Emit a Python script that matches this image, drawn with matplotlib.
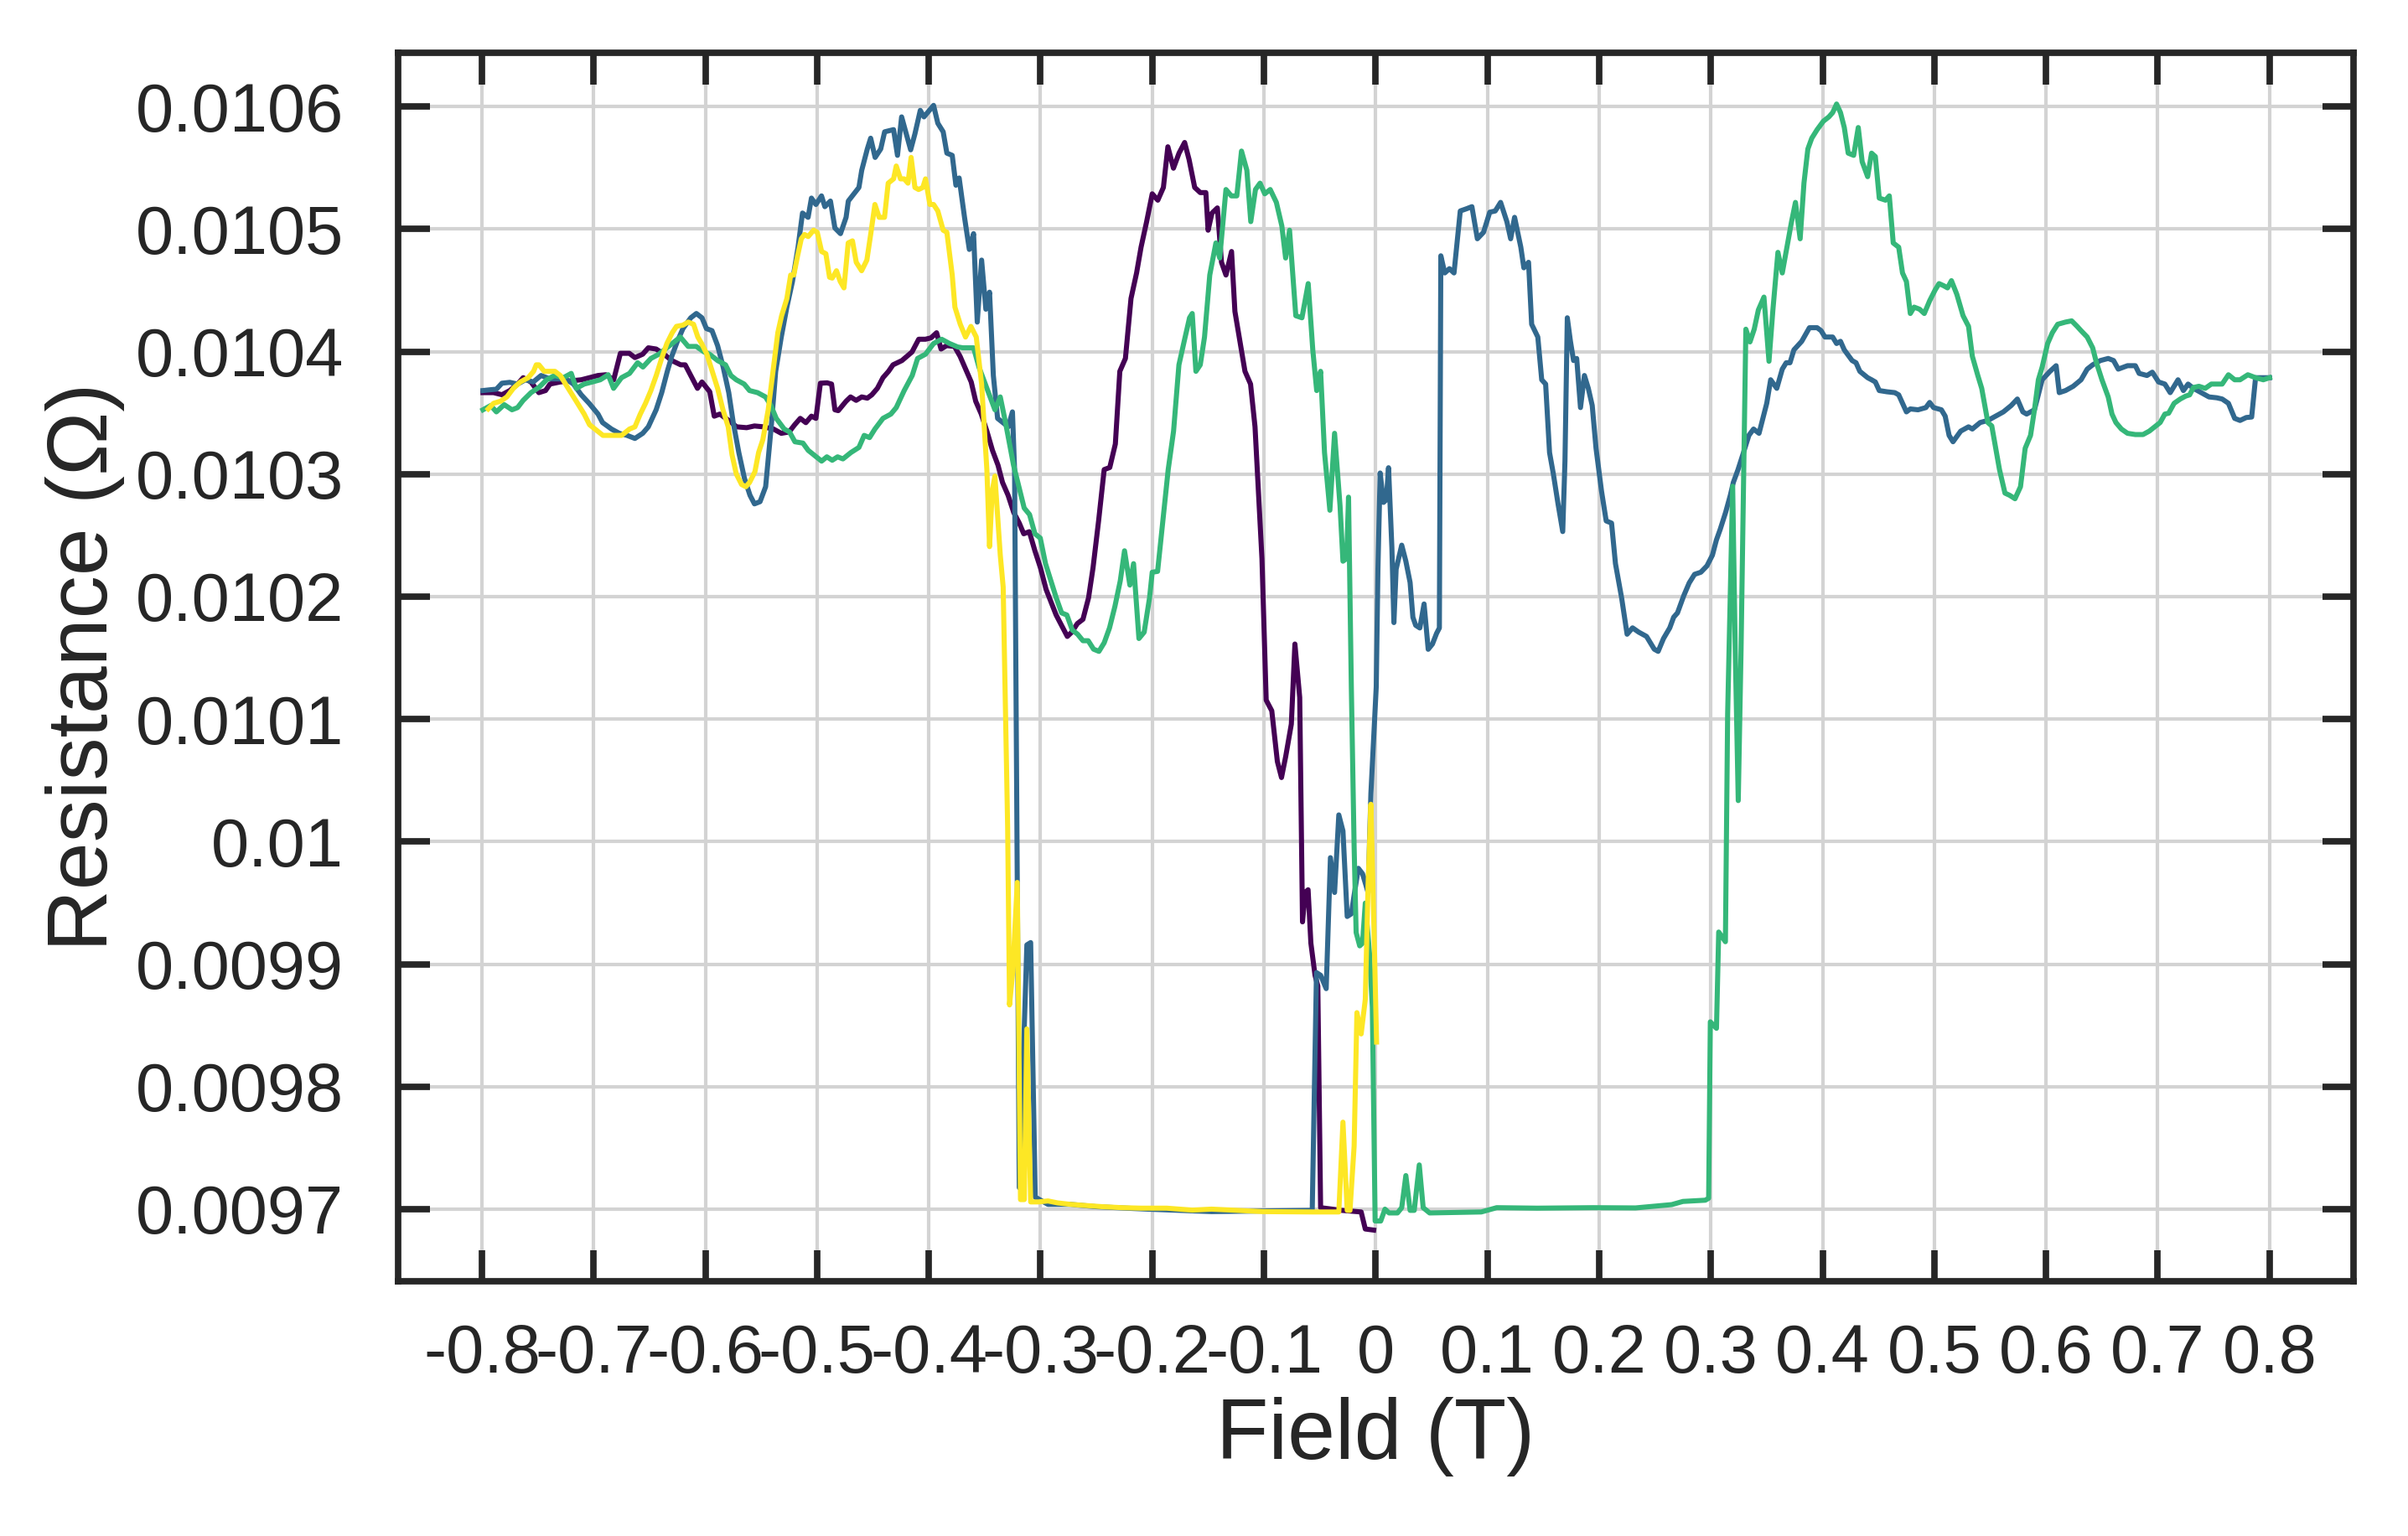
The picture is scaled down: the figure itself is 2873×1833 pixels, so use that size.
import matplotlib
matplotlib.use("Agg")
import matplotlib.pyplot as plt

purple_field = [-0.799, -0.7895, -0.782, -0.775, -0.768, -0.763, -0.756, -0.749, -0.743, -0.739,
                -0.730, -0.711, -0.696, -0.689, -0.682, -0.676, -0.668, -0.663, -0.656, -0.651,
                -0.644, -0.637, -0.630, -0.622, -0.618, -0.613, -0.607, -0.603, -0.596, -0.592,
                -0.587, -0.579, -0.572, -0.563, -0.556, -0.548, -0.539, -0.532, -0.525, -0.520,
                -0.515, -0.510, -0.505, -0.501, -0.497, -0.491, -0.487, -0.484, -0.481, -0.474,
                -0.470, -0.465, -0.460, -0.455, -0.451, -0.446, -0.441, -0.436, -0.432, -0.424,
                -0.415, -0.409, -0.403, -0.398, -0.393, -0.389, -0.384, -0.377, -0.372, -0.367,
                -0.362, -0.358, -0.353, -0.348, -0.343, -0.338, -0.334, -0.329, -0.324, -0.319,
                -0.315, -0.310, -0.305, -0.300, -0.295, -0.286, -0.276, -0.272, -0.267, -0.262,
                -0.257, -0.253, -0.248, -0.243, -0.238, -0.233, -0.229, -0.224, -0.219, -0.214,
                -0.210, -0.205, -0.200, -0.195, -0.190, -0.186, -0.181, -0.176, -0.171, -0.167,
                -0.162, -0.157, -0.152, -0.150, -0.1465, -0.1417, -0.138, -0.134, -0.129, -0.126,
                -0.117, -0.112, -0.108, -0.1018, -0.098, -0.093, -0.088, -0.0843, -0.0805, -0.0755,
                -0.0723, -0.068, -0.0655, -0.063, -0.0605, -0.058, -0.0543, -0.0518, -0.0493, -0.0305,
                -0.013, -0.0093, -0.0018]
purple_res = [0.0103665, 0.0103665, 0.0103648, 0.0103682, 0.0103735, 0.0103787, 0.0103752, 0.0103665, 0.0103682, 0.0103735,
              0.0103752, 0.0103770, 0.0103805, 0.0103811, 0.0103770, 0.0103986, 0.0103986, 0.0103951, 0.0103979, 0.0104031,
              0.0104021, 0.0103979, 0.0103927, 0.0103892, 0.0103892, 0.0103805, 0.0103700, 0.0103752, 0.0103672, 0.0103473,
              0.0103490, 0.0103438, 0.0103386, 0.0103379, 0.0103393, 0.0103386, 0.0103368, 0.0103333, 0.0103344, 0.0103403,
              0.0103455, 0.0103420, 0.0103473, 0.0103455, 0.0103742, 0.0103745, 0.0103735, 0.0103525, 0.0103518, 0.0103595,
              0.0103630, 0.0103602, 0.0103630, 0.0103620, 0.0103647, 0.0103700, 0.0103787, 0.0103839, 0.0103892, 0.0103927,
              0.0103997, 0.0104101, 0.0104101, 0.0104112, 0.0104154, 0.0104021, 0.0104049, 0.0104042, 0.0103962, 0.0103857,
              0.0103752, 0.0103595, 0.0103490, 0.0103351, 0.0103194, 0.0103072, 0.0102932, 0.0102827, 0.0102688, 0.0102600,
              0.0102513, 0.0102530, 0.0102374, 0.0102234, 0.0102059, 0.0101850, 0.0101675, 0.0101710, 0.0101780, 0.0101815,
              0.0101990, 0.0102234, 0.0102618, 0.0103037, 0.0103054, 0.0103246, 0.0103839, 0.0103944, 0.0104433, 0.0104642,
              0.0104852, 0.0105061, 0.0105288, 0.0105236, 0.0105340, 0.0105672, 0.0105497, 0.0105620, 0.0105707, 0.0105567,
              0.0105340, 0.0105298, 0.0105298, 0.0104991, 0.0105131, 0.0105173, 0.0104729, 0.0104625, 0.0104817, 0.0104328,
              0.0103839, 0.0103735, 0.0103386, 0.0102311, 0.0101155, 0.0101068, 0.0100654, 0.0100523, 0.0100697, 0.0100959,
              0.0101613, 0.0101177, 0.0099345, 0.0099585, 0.0099607, 0.0099171, 0.0098909, 0.0098822, 0.0097012, 0.0096990,
              0.0096977, 0.0096838, 0.0096829]

blue_field = [-0.799, -0.792, -0.787, -0.782, -0.775, -0.768, -0.761, -0.754, -0.747, -0.739,
              -0.725, -0.718, -0.711, -0.704, -0.696, -0.692, -0.684, -0.677, -0.670, -0.663,
              -0.656, -0.651, -0.644, -0.639, -0.634, -0.630, -0.625, -0.620, -0.613, -0.608,
              -0.603, -0.599, -0.594, -0.589, -0.584, -0.579, -0.575, -0.570, -0.565, -0.560,
              -0.556, -0.551, -0.546, -0.541, -0.537, -0.532, -0.527, -0.522, -0.517, -0.513,
              -0.508, -0.505, -0.501, -0.496, -0.493, -0.488, -0.484, -0.479, -0.474, -0.472,
              -0.467, -0.4625, -0.460, -0.455, -0.452, -0.448, -0.443, -0.4395, -0.4315, -0.428,
              -0.4243, -0.4196, -0.4162, -0.4124, -0.4076, -0.4043, -0.3995, -0.3957, -0.3919, -0.3871,
              -0.3838, -0.379, -0.3757, -0.3728, -0.368, -0.3637, -0.3599, -0.3566, -0.3527, -0.3489,
              -0.3456, -0.3422, -0.3384, -0.3337, -0.3289, -0.3251, -0.3232, -0.319, -0.3122, -0.3088,
              -0.3047, -0.2933, -0.2732, -0.2502, -0.2043, -0.1469, -0.0568, -0.053, -0.0493, -0.0443,
              -0.0405, -0.0368, -0.033, -0.0293, -0.0255, -0.0218, -0.0193, -0.0155, -0.0118, -0.0068,
              -0.0043, 0.0005, 0.002, 0.004, 0.007, 0.0095, 0.0115, 0.0145, 0.0163, 0.0183,
              0.0233, 0.027, 0.0308, 0.0333, 0.0358, 0.0395, 0.0433, 0.047, 0.0508, 0.0545,
              0.057, 0.0583, 0.0618, 0.066, 0.0701, 0.0757, 0.0813, 0.0861, 0.091, 0.0965,
              0.1021, 0.107, 0.1118, 0.1174, 0.1208, 0.1243, 0.1299, 0.1326, 0.1368, 0.1396,
              0.1451, 0.1486, 0.1521, 0.1556, 0.159, 0.1632, 0.1674, 0.1694, 0.1715, 0.1743,
              0.1771, 0.1799, 0.1833, 0.1868, 0.1903, 0.1938, 0.1972, 0.2021, 0.2063, 0.2111,
              0.2146, 0.2201, 0.225, 0.2299, 0.2354, 0.2424, 0.2493, 0.2528, 0.2576, 0.2632,
              0.2667, 0.2701, 0.2757, 0.2806, 0.2854, 0.291, 0.2965, 0.3014, 0.3049, 0.3083,
              0.3132, 0.3174, 0.3201, 0.3243, 0.3292, 0.334, 0.3382, 0.3431, 0.3465, 0.35,
              0.3535, 0.359, 0.3639, 0.3674, 0.3708, 0.3743, 0.3813, 0.3882, 0.3951, 0.3986,
              0.4021, 0.409, 0.4125, 0.416, 0.4194, 0.4264, 0.4299, 0.4333, 0.4403, 0.4438,
              0.4472, 0.4507, 0.4576, 0.4646, 0.4681, 0.4715, 0.475, 0.4785, 0.4854, 0.4924,
              0.4958, 0.4993, 0.5063, 0.5097, 0.5132, 0.5167, 0.5236, 0.5306, 0.534, 0.541,
              0.5479, 0.5549, 0.5618, 0.5688, 0.5743, 0.5792, 0.5826, 0.5896, 0.5965, 0.6035,
              0.609, 0.6118, 0.6174, 0.6243, 0.6313, 0.6368, 0.6417, 0.6486, 0.6556, 0.6604,
              0.6646, 0.6729, 0.6799, 0.6833, 0.6903, 0.6951, 0.7007, 0.7063, 0.7111, 0.7181,
              0.7229, 0.7271, 0.7319, 0.7389, 0.7458, 0.7528, 0.7576, 0.7632, 0.7688, 0.7736,
              0.7792, 0.784, 0.7875, 0.8]
blue_res = [0.0103682, 0.0103689, 0.0103693, 0.0103742, 0.0103749, 0.0103735, 0.0103770, 0.0103752, 0.0103805, 0.0103777,
            0.0103777, 0.0103735, 0.0103647, 0.0103578, 0.0103490, 0.0103421, 0.0103368, 0.0103333, 0.0103316, 0.0103291,
            0.0103333, 0.0103386, 0.0103525, 0.0103665, 0.0103839, 0.0103962, 0.0104084, 0.0104188, 0.0104276, 0.0104311,
            0.0104276, 0.0104188, 0.0104171, 0.0104049, 0.0103874, 0.0103665, 0.0103421, 0.0103176, 0.0102967, 0.0102827,
            0.0102757, 0.0102775, 0.0102897, 0.0103386, 0.0103839, 0.0104119, 0.0104363, 0.0104572, 0.0104852, 0.0105131,
            0.0105096, 0.0105253, 0.0105201, 0.0105271, 0.0105183, 0.0105229, 0.0105009, 0.0104963, 0.0105096, 0.0105229,
            0.0105288, 0.0105340, 0.0105480, 0.0105654, 0.0105742, 0.0105585, 0.0105654, 0.0105794, 0.0105812, 0.0105602,
            0.0105916, 0.0105759, 0.0105647, 0.0105777, 0.0105969, 0.0105916, 0.0105969, 0.0106010, 0.0105864, 0.0105794,
            0.0105620, 0.0105602, 0.0105358, 0.0105417, 0.0105096, 0.0104834, 0.0104963, 0.0104241, 0.0104747, 0.0104346,
            0.0104485, 0.0103805, 0.0103455, 0.0103421, 0.0103386, 0.0103508, 0.0103037, 0.0097176, 0.0099157, 0.0099176,
            0.0097098, 0.0097039, 0.0097039, 0.0097020, 0.0097000, 0.0096980, 0.0096990, 0.0098931, 0.0098909, 0.0098800,
            0.0099869, 0.0099585, 0.0100218, 0.0100087, 0.0099389, 0.0099411, 0.0099563, 0.0099782, 0.0099738, 0.0099585,
            0.0100392, 0.0101264, 0.0102224, 0.0103009, 0.0102769, 0.0102791, 0.0103052, 0.0102398, 0.0101788, 0.0102224,
            0.0102420, 0.0102289, 0.0102115, 0.0101831, 0.0101766, 0.0101744, 0.0101940, 0.0101570, 0.0101613, 0.0101700,
            0.0101744, 0.0104782, 0.0104642, 0.0104677, 0.0104642, 0.0105148, 0.0105166, 0.0105183, 0.0104921, 0.0104974,
            0.0105138, 0.0105148, 0.0105218, 0.0105061, 0.0104921, 0.0105096, 0.0104852, 0.0104684, 0.0104729, 0.0104223,
            0.0104119, 0.0103770, 0.0103735, 0.0103176, 0.0103002, 0.0102757, 0.0102531, 0.0103107, 0.0104276, 0.0104084,
            0.0103927, 0.0103944, 0.0103543, 0.0103805, 0.0103700, 0.0103560, 0.0103211, 0.0102862, 0.0102618, 0.0102600,
            0.0102269, 0.0101990, 0.0101693, 0.0101745, 0.0101710, 0.0101675, 0.0101571, 0.0101553, 0.0101658, 0.0101745,
            0.0101832, 0.0101867, 0.0102007, 0.0102112, 0.0102182, 0.0102199, 0.0102251, 0.0102339, 0.0102461, 0.0102548,
            0.0102688, 0.0102827, 0.0102932, 0.0103037, 0.0103176, 0.0103316, 0.0103368, 0.0103333, 0.0103455, 0.0103578,
            0.0103770, 0.0103700, 0.0103857, 0.0103909, 0.0103909, 0.0104014, 0.0104084, 0.0104195, 0.0104195, 0.0104171,
            0.0104119, 0.0104119, 0.0104066, 0.0104084, 0.0104014, 0.0103927, 0.0103909, 0.0103839, 0.0103787, 0.0103770,
            0.0103752, 0.0103682, 0.0103672, 0.0103665, 0.0103647, 0.0103578, 0.0103508, 0.0103532, 0.0103525, 0.0103543,
            0.0103585, 0.0103543, 0.0103525, 0.0103473, 0.0103316, 0.0103264, 0.0103351, 0.0103386, 0.0103368, 0.0103421,
            0.0103438, 0.0103473, 0.0103508, 0.0103560, 0.0103613, 0.0103508, 0.0103490, 0.0103525, 0.0103770, 0.0103839,
            0.0103885, 0.0103665, 0.0103682, 0.0103717, 0.0103770, 0.0103857, 0.0103892, 0.0103927, 0.0103944, 0.0103927,
            0.0103857, 0.0103885, 0.0103885, 0.0103822, 0.0103805, 0.0103832, 0.0103752, 0.0103735, 0.0103665, 0.0103770,
            0.0103682, 0.0103735, 0.0103700, 0.0103665, 0.0103630, 0.0103623, 0.0103613, 0.0103578, 0.0103455, 0.0103438,
            0.0103462, 0.0103466, 0.0103787, 0.0103787]

green_field = [-0.799, -0.792, -0.787, -0.780, -0.773, -0.768, -0.763, -0.756, -0.749, -0.742,
               -0.735, -0.727, -0.720, -0.7155, -0.7084, -0.7012, -0.694, -0.6869, -0.6821, -0.675,
               -0.6678, -0.6606, -0.6558, -0.6487, -0.6415, -0.6344, -0.6272, -0.6224, -0.6153, -0.6081,
               -0.601, -0.5962, -0.589, -0.5819, -0.5771, -0.5723, -0.5652, -0.5604, -0.5532, -0.5461,
               -0.5413, -0.5365, -0.5294, -0.5246, -0.5198, -0.5126, -0.5079, -0.5007, -0.4959, -0.4912,
               -0.4864, -0.4816, -0.4768, -0.4697, -0.4625, -0.4578, -0.453, -0.4482, -0.441, -0.4339,
               -0.4291, -0.422, -0.4148, -0.41, -0.4029, -0.3957, -0.3885, -0.3814, -0.3742, -0.3695,
               -0.3599, -0.3551, -0.348, -0.3408, -0.336, -0.3313, -0.3241, -0.3193, -0.3146, -0.3098,
               -0.305, -0.3002, -0.2955, -0.2907, -0.2859, -0.2811, -0.2764, -0.2716, -0.2668, -0.262,
               -0.2573, -0.2525, -0.2477, -0.243, -0.2382, -0.2334, -0.2286, -0.2248, -0.22, -0.2167,
               -0.2119, -0.2072, -0.2024, -0.2, -0.1952, -0.1905, -0.1857, -0.1809, -0.1761, -0.1714,
               -0.1666, -0.1642, -0.1609, -0.157, -0.1532, -0.1485, -0.143, -0.1396, -0.134, -0.1292,
               -0.1243, -0.1201, -0.1153, -0.1118, -0.1076, -0.1035, -0.0993, -0.0944, -0.0889, -0.084,
               -0.0806, -0.0771, -0.0715, -0.066, -0.0604, -0.0563, -0.0528, -0.0493, -0.0458, -0.041,
               -0.0368, -0.0319, -0.0293, -0.026, -0.0243, -0.0218, -0.0193, -0.0175, -0.0143, -0.0118,
               -0.0093, -0.0055, -0.003, -0.0005, 0.0045, 0.0083, 0.012, 0.0195, 0.0233, 0.027,
               0.0308, 0.0345, 0.039, 0.0425, 0.0483, 0.0945, 0.1083, 0.1445, 0.1945, 0.2325,
               0.265, 0.275, 0.295, 0.298, 0.2995, 0.305, 0.307, 0.313, 0.315, 0.3195,
               0.3218, 0.3245, 0.327, 0.3313, 0.335, 0.3388, 0.3425, 0.3475, 0.352, 0.3555,
               0.36, 0.3639, 0.3688, 0.3722, 0.3757, 0.3799, 0.3833, 0.3868, 0.3903, 0.3951,
               0.4007, 0.4056, 0.409, 0.4125, 0.416, 0.4194, 0.4229, 0.4278, 0.4319, 0.4354,
               0.4403, 0.4438, 0.4472, 0.4507, 0.4563, 0.4597, 0.4632, 0.4681, 0.4715, 0.475,
               0.4785, 0.4819, 0.4868, 0.491, 0.4958, 0.5007, 0.5042, 0.5083, 0.5118, 0.5153,
               0.5201, 0.5257, 0.5306, 0.534, 0.5389, 0.5424, 0.5479, 0.5514, 0.5549, 0.5583,
               0.5632, 0.5674, 0.5722, 0.5771, 0.5813, 0.5861, 0.5896, 0.5931, 0.5965, 0.6014,
               0.6056, 0.6104, 0.6174, 0.6229, 0.6278, 0.6313, 0.6368, 0.6417, 0.6451, 0.65,
               0.6556, 0.659, 0.6625, 0.6674, 0.6729, 0.6799, 0.6868, 0.6924, 0.6972, 0.7021,
               0.7063, 0.7097, 0.7146, 0.7201, 0.725, 0.7285, 0.7319, 0.7368, 0.7424, 0.7479,
               0.7576, 0.7632, 0.7688, 0.7736, 0.7806, 0.7875, 0.7944, 0.8]
green_res = [0.0103525, 0.0103560, 0.0103508, 0.0103567, 0.0103525, 0.0103543, 0.0103602, 0.0103665, 0.0103707, 0.0103770,
             0.0103805, 0.0103787, 0.0103822, 0.0103700, 0.0103735, 0.0103752, 0.0103770, 0.0103811, 0.0103700, 0.0103787,
             0.0103822, 0.0103909, 0.0103874, 0.0103944, 0.0103979, 0.0104031, 0.0104084, 0.0104119, 0.0104042, 0.0104042,
             0.0103997, 0.0103979, 0.0103927, 0.0103892, 0.0103805, 0.0103770, 0.0103735, 0.0103682, 0.0103665, 0.0103630,
             0.0103560, 0.0103455, 0.0103368, 0.0103344, 0.0103264, 0.0103253, 0.0103194, 0.0103141, 0.0103106, 0.0103141,
             0.0103113, 0.0103141, 0.0103124, 0.0103176, 0.0103218, 0.0103316, 0.0103298, 0.0103368, 0.0103455, 0.0103490,
             0.0103543, 0.0103682, 0.0103805, 0.0103944, 0.0103979, 0.0104066, 0.0104101, 0.0104066, 0.0104038, 0.0104031,
             0.0104031, 0.0103874, 0.0103700, 0.0103525, 0.0103630, 0.0103421, 0.0103072, 0.0102897, 0.0102723, 0.0102670,
             0.0102513, 0.0102478, 0.0102269, 0.0102129, 0.0101990, 0.0101867, 0.0101850, 0.0101728, 0.0101693, 0.0101640,
             0.0101640, 0.0101571, 0.0101553, 0.0101623, 0.0101745, 0.0101920, 0.0102129, 0.0102374, 0.0102094, 0.0102269,
             0.0101658, 0.0101710, 0.0101990, 0.0102199, 0.0102206, 0.0102618, 0.0103037, 0.0103351, 0.0103892, 0.0104084,
             0.0104276, 0.0104311, 0.0103839, 0.0103892, 0.0104119, 0.0104625, 0.0104887, 0.0104764, 0.0105323, 0.0105271,
             0.0105271, 0.0105637, 0.0105480, 0.0105061, 0.0105323, 0.0105375, 0.0105288, 0.0105323, 0.0105218, 0.0105026,
             0.0104764, 0.0104991, 0.0104293, 0.0104276, 0.0104555, 0.0104014, 0.0103682, 0.0103839, 0.0103176, 0.0102705,
             0.0103333, 0.0102740, 0.0102289, 0.0102311, 0.0102812, 0.0101264, 0.0099956, 0.0099258, 0.0099149, 0.0099171,
             0.0099498, 0.0099084, 0.0098648, 0.0096903, 0.0096903, 0.0097000, 0.0096969, 0.0096969, 0.0097012, 0.0097274,
             0.0096990, 0.0096990, 0.0097361, 0.0097012, 0.0096969, 0.0096977, 0.0097012, 0.0097008, 0.0097012, 0.0097010,
             0.0097037, 0.0097063, 0.0097073, 0.0097089, 0.0098529, 0.0098476, 0.0099262, 0.0099183, 0.0101042, 0.0102901,
             0.0101565, 0.0100335, 0.0101565, 0.0104183, 0.0104079, 0.0104183, 0.0104340, 0.0104445, 0.0103921, 0.0104340,
             0.0104810, 0.0104642, 0.0104887, 0.0105061, 0.0105218, 0.0104921, 0.0105375, 0.0105654, 0.0105742, 0.0105812,
             0.0105881, 0.0105916, 0.0105951, 0.0106021, 0.0105951, 0.0105829, 0.0105620, 0.0105602, 0.0105829, 0.0105550,
             0.0105428, 0.0105620, 0.0105592, 0.0105253, 0.0105236, 0.0105271, 0.0104887, 0.0104852, 0.0104642, 0.0104572,
             0.0104311, 0.0104363, 0.0104346, 0.0104311, 0.0104415, 0.0104503, 0.0104555, 0.0104538, 0.0104520, 0.0104579,
             0.0104468, 0.0104293, 0.0104206, 0.0103962, 0.0103805, 0.0103700, 0.0103421, 0.0103393, 0.0103211, 0.0103037,
             0.0102845, 0.0102827, 0.0102799, 0.0102897, 0.0103211, 0.0103316, 0.0103525, 0.0103770, 0.0103874, 0.0104066,
             0.0104154, 0.0104223, 0.0104241, 0.0104251, 0.0104206, 0.0104171, 0.0104119, 0.0104031, 0.0103909, 0.0103770,
             0.0103630, 0.0103490, 0.0103421, 0.0103368, 0.0103333, 0.0103323, 0.0103323, 0.0103351, 0.0103386, 0.0103421,
             0.0103490, 0.0103497, 0.0103578, 0.0103613, 0.0103637, 0.0103647, 0.0103707, 0.0103717, 0.0103700, 0.0103735,
             0.0103735, 0.0103811, 0.0103770, 0.0103770, 0.0103811, 0.0103787, 0.0103770, 0.0103787]

yellow_field = [-0.7943, -0.7895, -0.7833, -0.7776, -0.7718, -0.7656, -0.7585, -0.7537, -0.7513, -0.7489,
                -0.7442, -0.7346, -0.7298, -0.7227, -0.7155, -0.7084, -0.7036, -0.6964, -0.6916, -0.6749,
                -0.6678, -0.663, -0.6582, -0.6535, -0.6487, -0.6439, -0.6391, -0.6344, -0.6296, -0.6258,
                -0.62, -0.6153, -0.6105, -0.6067, -0.6033, -0.5986, -0.5938, -0.589, -0.5842, -0.5795,
                -0.5761, -0.5723, -0.5675, -0.5637, -0.5604, -0.5556, -0.5523, -0.5485, -0.5437, -0.5389,
                -0.5351, -0.5317, -0.527, -0.5236, -0.5208, -0.5174, -0.5141, -0.5112, -0.5079, -0.5031,
                -0.4998, -0.4959, -0.4921, -0.4888, -0.4864, -0.4826, -0.4792, -0.4759, -0.4721, -0.4683,
                -0.4649, -0.4601, -0.4554, -0.452, -0.4482, -0.4444, -0.4396, -0.4363, -0.4315, -0.4291,
                -0.4253, -0.422, -0.4186, -0.4158, -0.4124, -0.4091, -0.4053, -0.4029, -0.399, -0.3957,
                -0.3919, -0.3871, -0.3838, -0.379, -0.3766, -0.3718, -0.3671, -0.3623, -0.3575, -0.3527,
                -0.348, -0.3456, -0.3432, -0.3408, -0.336, -0.3334, -0.3294, -0.3277, -0.3248, -0.3208,
                -0.3179, -0.3145, -0.3122, -0.3088, -0.3019, -0.2933, -0.2847, -0.2732, -0.2617, -0.2445,
                -0.2273, -0.21, -0.1871, -0.1641, -0.1469, -0.101, -0.0555, -0.033, -0.0293, -0.0255,
                -0.023, -0.0193, -0.0168, -0.013, -0.0093, -0.0068, -0.0043, -0.0018, 0.0008]
yellow_res = [0.0103532, 0.0103578, 0.0103595, 0.0103630, 0.0103700, 0.0103752, 0.0103787, 0.0103839, 0.0103892, 0.0103892,
              0.0103839, 0.0103839, 0.0103805, 0.0103700, 0.0103595, 0.0103490, 0.0103403, 0.0103351, 0.0103316, 0.0103316,
              0.0103368, 0.0103386, 0.0103490, 0.0103578, 0.0103682, 0.0103805, 0.0103944, 0.0104066, 0.0104154, 0.0104206,
              0.0104216, 0.0104241, 0.0104223, 0.0104119, 0.0104066, 0.0103979, 0.0103839, 0.0103700, 0.0103525, 0.0103386,
              0.0103159, 0.0103002, 0.0102915, 0.0102897, 0.0102932, 0.0103019, 0.0103176, 0.0103281, 0.0103525, 0.0103874,
              0.0104154, 0.0104293, 0.0104433, 0.0104625, 0.0104625, 0.0104782, 0.0104921, 0.0104956, 0.0104939, 0.0104991,
              0.0104974, 0.0104817, 0.0104799, 0.0104607, 0.0104600, 0.0104660, 0.0104572, 0.0104520, 0.0104887, 0.0104904,
              0.0104729, 0.0104660, 0.0104747, 0.0104956, 0.0105201, 0.0105096, 0.0105096, 0.0105375, 0.0105410, 0.0105515,
              0.0105410, 0.0105410, 0.0105375, 0.0105585, 0.0105340, 0.0105323, 0.0105340, 0.0105410, 0.0105201, 0.0105201,
              0.0105148, 0.0104991, 0.0104974, 0.0104625, 0.0104363, 0.0104223, 0.0104119, 0.0104206, 0.0104119, 0.0103735,
              0.0103037, 0.0102408, 0.0102862, 0.0102984, 0.0102339, 0.0102078, 0.0100118, 0.0098667, 0.0098941, 0.0099667,
              0.0097078, 0.0097078, 0.0098471, 0.0097059, 0.0097059, 0.0097067, 0.0097051, 0.0097039, 0.0097031, 0.0097020,
              0.0097012, 0.0097008, 0.0097008, 0.0096992, 0.0097000, 0.0096980, 0.0096977, 0.0096977, 0.0097710, 0.0096990,
              0.0096990, 0.0097514, 0.0098604, 0.0098430, 0.0098713, 0.0099651, 0.0100305, 0.0099389, 0.0098364]

x_ticks = [-0.8, -0.7, -0.6, -0.5, -0.4, -0.3, -0.2, -0.1, 0.0, 0.1, 0.2, 0.3, 0.4, 0.5, 0.6, 0.7, 0.8]
x_tick_labels = ["-0.8", "-0.7", "-0.6", "-0.5", "-0.4", "-0.3", "-0.2", "-0.1", "0",
                 "0.1", "0.2", "0.3", "0.4", "0.5", "0.6", "0.7", "0.8"]
y_ticks = [0.0097, 0.0098, 0.0099, 0.0100, 0.0101, 0.0102, 0.0103, 0.0104, 0.0105, 0.0106]
y_tick_labels = ["0.0097", "0.0098", "0.0099", "0.01", "0.0101", "0.0102",
                 "0.0103", "0.0104", "0.0105", "0.0106"]

# viridis picks for the four sweeps
colors = ["#440154", "#31688e", "#35b779", "#fde725"]
ink = "#262626"

plt.rcParams["font.family"] = ["Liberation Sans", "DejaVu Sans"]
plt.rcParams["text.color"] = ink
plt.rcParams["axes.labelcolor"] = ink

fig = plt.figure(figsize=(2873 / 300, 1833 / 300), dpi=300)
ax = fig.add_axes([0.1653, 0.1659, 0.8120, 0.7998])

sweeps = [(purple_field, purple_res), (blue_field, blue_res),
          (green_field, green_res), (yellow_field, yellow_res)]
for (field, res), c in zip(sweeps, colors):
    ax.plot(field, res, color=c, lw=1.45)

ax.set_xlim(-0.875, 0.875)
ax.set_ylim(0.0096412, 0.010644)
ax.set_xticks(x_ticks)
ax.set_xticklabels(x_tick_labels)
ax.set_yticks(y_ticks)
ax.set_yticklabels(y_tick_labels)

ax.set_axisbelow(True)
ax.grid(True, color="lightgrey", lw=1.0)
for side in ax.spines.values():
    side.set_linewidth(1.85)
    side.set_color(ink)

ax.tick_params(axis="both", which="major", direction="in", length=9, width=1.85,
               color=ink, labelcolor=ink, labelsize=19.5, top=True, right=True)
ax.tick_params(axis="x", pad=12)
ax.tick_params(axis="y", pad=15.5)

ax.set_xlabel("Field (T)", fontsize=24.5, labelpad=3)
ax.set_ylabel("Resistance (Ω)", fontsize=24.5, labelpad=3)

fig.savefig("out.png", dpi=300)
